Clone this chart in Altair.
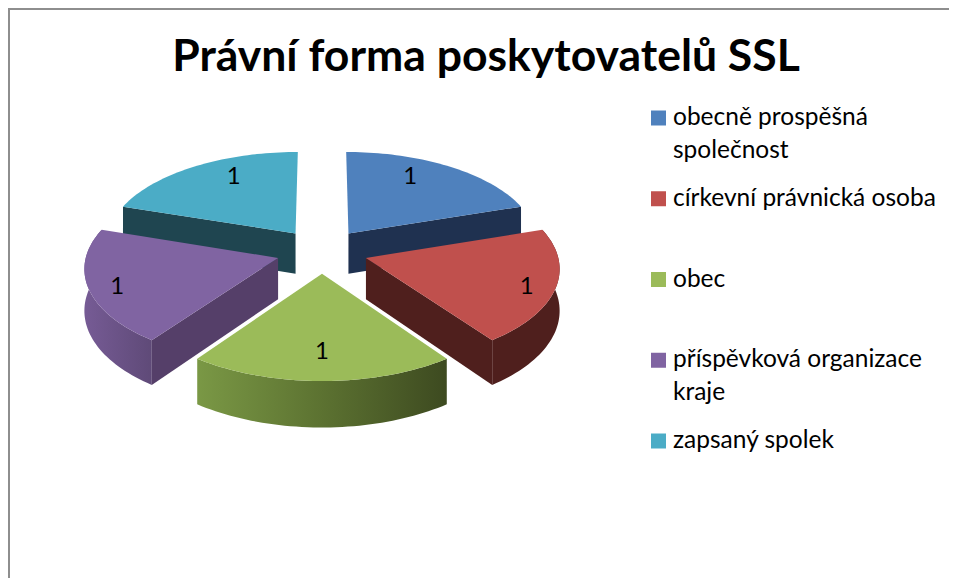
import numpy as np
import pandas as pd
import altair as alt

W, H = 941, 570
TITLE = "Právní forma poskytovatelů SSL"
CATEGORIES = ["obecně prospěšná společnost", "církevní právnická osoba", "obec",
              "příspěvková organizace kraje", "zapsaný spolek"]
VALUES = [1, 1, 1, 1, 1]
LEGEND_LINES = [["obecně prospěšná", "společnost"], ["církevní právnická osoba"], ["obec"],
                ["příspěvková organizace", "kraje"], ["zapsaný spolek"]]
TOP = ["#4f81bd", "#c0504d", "#9bbb59", "#8064a2", "#4bacc6"]

# 3D view of the pie (layout constants)
CX, CY, A, B, K, EXPL, DROP = 322, 251, 191, 92.4, 0.0956, 0.24, 41
LABEL_ANGLE = [30, 110, 180, 250, 330]
LABEL_R = [1.0, 1.1, 0.99, 1.1, 1.0]

FONT = "Lato"
xs = alt.Scale(domain=[8, 8 + W], range=[0, W])
ys = alt.Scale(domain=[8 + H, 8], range=[H, 0])
X = lambda f: alt.X(f, type="quantitative", scale=xs, axis=None)
Y = lambda f: alt.Y(f, type="quantitative", scale=ys, axis=None)


def project(px, py, drop=0.0):
    s = 1 / (1 - K * py)
    return CX + A * px * s, CY + B * py * s + drop * s


def plan(theta, r, off=(0.0, 0.0)):
    t = np.radians(theta)
    return off[0] + r * np.sin(t), off[1] - r * np.cos(t)


def poly(path):
    return pd.DataFrame({"x": [p[0] for p in path], "y": [p[1] for p in path],
                         "i": range(len(path))})


def fill_layer(path, fill):
    return alt.Chart(poly(path)).mark_line(filled=False, fill=fill, strokeWidth=0, stroke="transparent").encode(
        x=X("x"), y=Y("y"), order=alt.Order("i:Q"))


def grad(c0, c1, c2=None):
    stops = [alt.GradientStop(color=c0, offset=0)]
    if c2:
        stops.append(alt.GradientStop(color=c1, offset=0.5))
        stops.append(alt.GradientStop(color=c2, offset=1))
    else:
        stops.append(alt.GradientStop(color=c1, offset=1))
    return alt.LinearGradient(gradient="linear", x1=0, x2=1, y1=0, y2=0, stops=stops)


total = sum(VALUES)
edges = np.concatenate([[0], np.cumsum(VALUES)]) * 360 / total
slices = []
for i in range(len(VALUES)):
    a0, a1 = edges[i], edges[i + 1]
    off = plan((a0 + a1) / 2, EXPL)
    arc = [plan(t, 1.0, off) for t in np.linspace(a0, a1, 48)]
    slices.append({"off": off, "arc": arc})


def top_face(i):
    s = slices[i]
    return [project(*s["off"])] + [project(*p) for p in s["arc"]]


def edge_side(i, end):
    s = slices[i]
    corner = s["arc"][end]
    return [project(*s["off"]), project(*corner), project(*corner, DROP), project(*s["off"], DROP)]


def arc_side(i):
    a = slices[i]["arc"]
    return [project(*p) for p in a] + [project(*p, DROP) for p in reversed(a)]


layers = []
# teal
layers += [fill_layer(edge_side(4, 0), "#1f4550"), fill_layer(top_face(4), TOP[4])]
# blue
layers += [fill_layer(edge_side(0, -1), "#1f3150"), fill_layer(top_face(0), TOP[0])]
# purple
layers += [fill_layer(arc_side(3), grad("#765b95", "#5f4a78")),
           fill_layer(edge_side(3, 0), "#553f69"), fill_layer(top_face(3), TOP[3])]
# red
layers += [fill_layer(arc_side(1), "#4f1f1d"),
           fill_layer(edge_side(1, -1), "#4f1f1d"), fill_layer(top_face(1), TOP[1])]
# green
layers += [fill_layer(arc_side(2), grad("#7a9845", "#5c7231", "#3d4a20")), fill_layer(top_face(2), TOP[2])]

# data labels
lab = []
for v, t, r in zip(VALUES, LABEL_ANGLE, LABEL_R):
    lx, ly = project(*plan(t, r))
    lab.append({"x": lx, "y": ly, "t": str(v)})
layers.append(alt.Chart(pd.DataFrame(lab)).mark_text(font=FONT, fontSize=24, color="#000000", baseline="middle").encode(
    x=X("x"), y=Y("y"), text="t:N"))

# frame
frame_l = pd.DataFrame({"x": [9], "y": [8], "y2": [8 + H]})
frame_t = pd.DataFrame({"x": [8], "x2": [8 + W], "y": [9]})
layers.append(alt.Chart(frame_l).mark_rule(color="#8e8e8e", strokeWidth=2).encode(x=X("x"), y=Y("y"), y2="y2:Q"))
layers.append(alt.Chart(frame_t).mark_rule(color="#8e8e8e", strokeWidth=2).encode(x=X("x"), x2="x2:Q", y=Y("y")))

# title
layers.append(alt.Chart(pd.DataFrame({"x": [486], "y": [58], "t": [TITLE]})).mark_text(
    font=FONT, fontSize=44.5, fontWeight="bold", color="#000000", baseline="middle").encode(
    x=X("x"), y=Y("y"), text="t:N"))

# legend
LEG_TOP, LEG_STEP, LINE_H = 118, 80.75, 33
sym = pd.DataFrame({"cat": CATEGORIES, "x": 658.5, "y": [LEG_TOP + LEG_STEP * i for i in range(len(CATEGORIES))]})
layers.append(alt.Chart(sym).mark_square(size=225, opacity=1).encode(
    x=X("x"), y=Y("y"),
    color=alt.Color("cat:N", scale=alt.Scale(domain=CATEGORIES, range=TOP), legend=None)))
rows = []
for i, lines in enumerate(LEGEND_LINES):
    for j, l in enumerate(lines):
        rows.append({"x": 673, "y": LEG_TOP + LEG_STEP * i + j * LINE_H, "t": l})
layers.append(alt.Chart(pd.DataFrame(rows)).mark_text(
    font=FONT, fontSize=24.5, color="#000000", align="left", baseline="middle").encode(
    x=X("x"), y=Y("y"), text="t:N"))

chart = alt.layer(*layers).properties(width=W, height=H, padding=0, background="#ffffff",
                                      autosize=alt.AutoSizeParams(type="none")).configure_view(stroke=None)
chart.save("out.html", embed_options={"renderer": "svg", "actions": False})
